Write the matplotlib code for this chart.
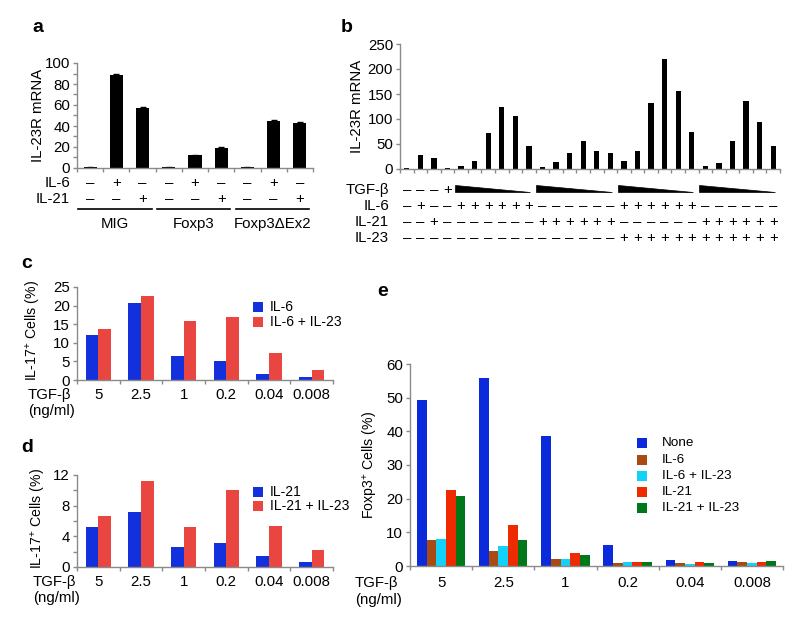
import matplotlib
matplotlib.use('Agg')
import matplotlib.pyplot as plt
from matplotlib.patches import Rectangle, Polygon
from matplotlib.lines import Line2D
from matplotlib.ticker import MultipleLocator, FixedLocator
import matplotlib.transforms as mtrans
import numpy as np

plt.rcParams['font.family'] = ['Liberation Sans', 'DejaVu Sans']
plt.rcParams['mathtext.fontset'] = 'custom'
plt.rcParams['mathtext.rm'] = 'Liberation Sans'
plt.rcParams['mathtext.it'] = 'Liberation Sans:italic'
plt.rcParams['mathtext.bf'] = 'Liberation Sans:bold'

# ---------------- data ----------------
# panel a
a_values = [0.5, 89, 57, 0.6, 12, 19, 0.6, 45, 43]
a_err = [0.3, 1.0, 0.8, 0.3, 0.8, 0.8, 0.3, 1.0, 0.8]
a_il6 = ['–', '+', '–'] * 3
a_il21 = ['–', '–', '+'] * 3
a_groups = ['MIG', 'Foxp3', 'Foxp3ΔEx2']

# panel b
b_values = [2, 28, 22, 2, 6, 16, 72, 124, 106, 46,
            4, 14, 32, 56, 36, 32,
            16, 36, 132, 220, 156, 74,
            6, 12, 56, 136, 94, 46]
b_tgf = ['–', '–', '–', '+']
b_wedge_groups = [(4, 9), (10, 15), (16, 21), (22, 27)]
b_il6 = ['–', '+', '–', '–'] + ['+'] * 6 + ['–'] * 6 + ['+'] * 6 + ['–'] * 6
b_il21 = ['–', '–', '+', '–'] + ['–'] * 6 + ['+'] * 6 + ['–'] * 6 + ['+'] * 6
b_il23 = ['–'] * 16 + ['+'] * 12
b_rows = ['TGF-β', 'IL-6', 'IL-21', 'IL-23']

# panels c, d, e
tgf_doses = ['5', '2.5', '1', '0.2', '0.04', '0.008']
c_il6 = [12.1, 20.6, 6.5, 5.1, 1.7, 0.7]
c_il6_il23 = [13.8, 22.7, 15.9, 17.0, 7.2, 2.6]
c_labels = ['IL-6', 'IL-6 + IL-23']
d_il21 = [5.2, 7.2, 2.6, 3.1, 1.5, 0.7]
d_il21_il23 = [6.6, 11.2, 5.2, 10.0, 5.3, 2.2]
d_labels = ['IL-21', 'IL-21 + IL-23']
e_none = [49.2, 55.8, 38.6, 6.1, 1.7, 1.5]
e_il6 = [7.8, 4.6, 2.0, 0.9, 0.9, 1.1]
e_il6_il23 = [7.9, 5.9, 2.0, 1.1, 0.7, 0.9]
e_il21 = [22.7, 12.2, 4.0, 1.2, 1.2, 1.1]
e_il21_il23 = [20.7, 7.6, 3.2, 1.2, 1.0, 1.5]
e_labels = ['None', 'IL-6', 'IL-6 + IL-23', 'IL-21', 'IL-21 + IL-23']

# ---------------- style ----------------
W, H = 800, 630
fig = plt.figure(figsize=(8, 6.3), dpi=100)
AX = '#8a8a8a'
FS = 10.8
LFS = 10
BLUE = '#1230DC'
RED_CD = '#EA4641'
E_COLORS = ['#0A2ADC', '#A84B12', '#12D2FA', '#EE2A00', '#00781A']


def fy(y):
    return 1 - y / H


def add_ax(x0, x1, ytop, ybot):
    return fig.add_axes([x0 / W, 1 - ybot / H, (x1 - x0) / W, (ybot - ytop) / H])


def style(ax, n):
    for s in ['top', 'right']:
        ax.spines[s].set_visible(False)
    for s in ['left', 'bottom']:
        ax.spines[s].set_color(AX)
        ax.spines[s].set_linewidth(1)
    ax.tick_params(axis='both', which='both', direction='out', color=AX,
                   labelsize=FS, length=3, width=1, pad=2)
    ax.set_xlim(-0.5, n - 0.5)
    ax.set_xticks([])
    ax.xaxis.set_minor_locator(FixedLocator(np.arange(-0.5, n, 1.0)))


def ftext(x, y, s, **kw):
    fig.text(x / W, fy(y), s, **kw)


def blend(ax):
    return mtrans.blended_transform_factory(ax.transData, fig.transFigure)


def legend_manual(x, ys, labels, colors, fs=LFS, sq=10, tx=None):
    for yy, lab, col in zip(ys, labels, colors):
        fig.patches.append(Rectangle((x / W, fy(yy + sq / 2)), sq / W, sq / H,
                                     transform=fig.transFigure, fc=col, ec='none'))
        ftext(tx, yy, lab, fontsize=fs, va='center', ha='left')


# ---------------- panel a ----------------
ax = add_ax(77, 313, 63, 168)
style(ax, len(a_values))
xa = np.arange(len(a_values))
ax.bar(xa, a_values, width=0.5, color='black', yerr=a_err, capsize=2,
       error_kw=dict(lw=1, ecolor='black', capthick=1))
ax.set_ylim(0, 100)
ax.yaxis.set_major_locator(MultipleLocator(20))
ax.yaxis.set_minor_locator(MultipleLocator(10))
ax.set_ylabel('IL-23R mRNA', fontsize=FS)
ax.yaxis.set_label_coords(-0.136, 0.5)
tb = blend(ax)
for i in xa:
    ax.text(i, fy(183), a_il6[i], transform=tb, ha='center', va='center', fontsize=FS)
    ax.text(i, fy(199), a_il21[i], transform=tb, ha='center', va='center', fontsize=FS)
ftext(70, 183, 'IL-6', ha='right', va='center', fontsize=FS)
ftext(70, 199, 'IL-21', ha='right', va='center', fontsize=FS)
for g, name in enumerate(a_groups):
    l, r = 3 * g - 0.45, 3 * g + 2.35
    ax.add_artist(Line2D([l, r], [fy(209), fy(209)], transform=tb, color='black',
                         lw=1.2, clip_on=False))
    ax.text((l + r) / 2, fy(224), name, transform=tb, ha='center', va='center', fontsize=FS)

# ---------------- panel b ----------------
ax = add_ax(400, 780, 44, 169)
style(ax, len(b_values))
xb = np.arange(len(b_values))
ax.bar(xb, b_values, width=0.38, color='black')
ax.set_ylim(0, 250)
ax.yaxis.set_major_locator(MultipleLocator(50))
ax.set_ylabel('IL-23R mRNA', fontsize=FS)
ax.yaxis.set_label_coords(-0.095, 0.5)
tb = blend(ax)
for i, s in enumerate(b_tgf):
    ax.text(i, fy(190), s, transform=tb, ha='center', va='center', fontsize=FS)
for (s0, s1) in b_wedge_groups:
    ax.add_patch(Polygon([(s0 - 0.45, fy(185)), (s0 - 0.45, fy(192)), (s1 + 0.1, fy(192))],
                         closed=True, transform=tb, fc='black', ec='black', lw=0.5,
                         clip_on=False))
for row, (signs, yy) in enumerate([(b_il6, 206), (b_il21, 222), (b_il23, 238)]):
    for i, s in enumerate(signs):
        ax.text(i, fy(yy), s, transform=tb, ha='center', va='center', fontsize=FS)
for lab, yy in zip(b_rows, [190, 206, 222, 238]):
    ftext(389, yy, lab, ha='right', va='center', fontsize=FS)

# ---------------- panels c, d ----------------
def pair_panel(ytop, ybot, s1, s2, ymax, major, minor, ylab, labx, tgf_x, row_y, ng_y):
    ax = add_ax(77, 333, ytop, ybot)
    n = len(s1)
    style(ax, n)
    x = np.arange(n)
    ax.bar(x - 0.15, s1, width=0.3, color=BLUE)
    ax.bar(x + 0.15, s2, width=0.3, color=RED_CD)
    ax.set_ylim(0, ymax)
    ax.yaxis.set_major_locator(MultipleLocator(major))
    if minor:
        ax.yaxis.set_minor_locator(MultipleLocator(minor))
    ax.set_ylabel(ylab, fontsize=10.2)
    ax.yaxis.set_label_coords(labx, 0.53)
    tb = blend(ax)
    for i, d in enumerate(tgf_doses):
        ax.text(i, fy(row_y), d, transform=tb, ha='center', va='center', fontsize=FS)
    ftext(tgf_x, row_y, 'TGF-β', ha='left', va='center', fontsize=FS)
    ftext(tgf_x, ng_y, '(ng/ml)', ha='left', va='center', fontsize=FS)
    return ax


pair_panel(287, 380, c_il6, c_il6_il23, 25, 5, None, r'IL-17$^{+}$ Cells (%)',
           -0.133, 28, 395, 411)
legend_manual(253, [307, 322], c_labels, [BLUE, RED_CD], tx=270)

pair_panel(475, 567, d_il21, d_il21_il23, 12, 4, 2, r'IL-17$^{+}$ Cells (%)',
           -0.113, 33, 582, 598)
legend_manual(253, [492, 506], d_labels, [BLUE, RED_CD], tx=270)

# ---------------- panel e ----------------
ax = add_ax(410, 783, 364, 566)
e_series = [e_none, e_il6, e_il6_il23, e_il21, e_il21_il23]
n = len(e_none)
style(ax, n)
x = np.arange(n)
bw = 0.155
for k, (vals, col) in enumerate(zip(e_series, E_COLORS)):
    ax.bar(x + (k - 2) * bw, vals, width=bw, color=col)
ax.set_ylim(0, 60)
ax.yaxis.set_major_locator(MultipleLocator(10))
ax.set_ylabel(r'Foxp3$^{+}$ Cells (%)', fontsize=10.2)
ax.yaxis.set_label_coords(-0.08, 0.5)
tb = blend(ax)
for i, d in enumerate(tgf_doses):
    ax.text(i, fy(583), d, transform=tb, ha='center', va='center', fontsize=FS)
ftext(355, 583, 'TGF-β', ha='left', va='center', fontsize=FS)
ftext(355, 600, '(ng/ml)', ha='left', va='center', fontsize=FS)
legend_manual(637, [443, 460, 476, 492, 508], e_labels, E_COLORS, fs=9.7, tx=662)

# ---------------- panel letters ----------------
for lab, (px, py) in zip('abcde', [(38, 27), (347, 27), (27, 263), (27, 447), (383, 292)]):
    ftext(px, py, lab, fontsize=14, fontweight='bold', ha='center', va='center')

fig.savefig('out.png', dpi=100)
